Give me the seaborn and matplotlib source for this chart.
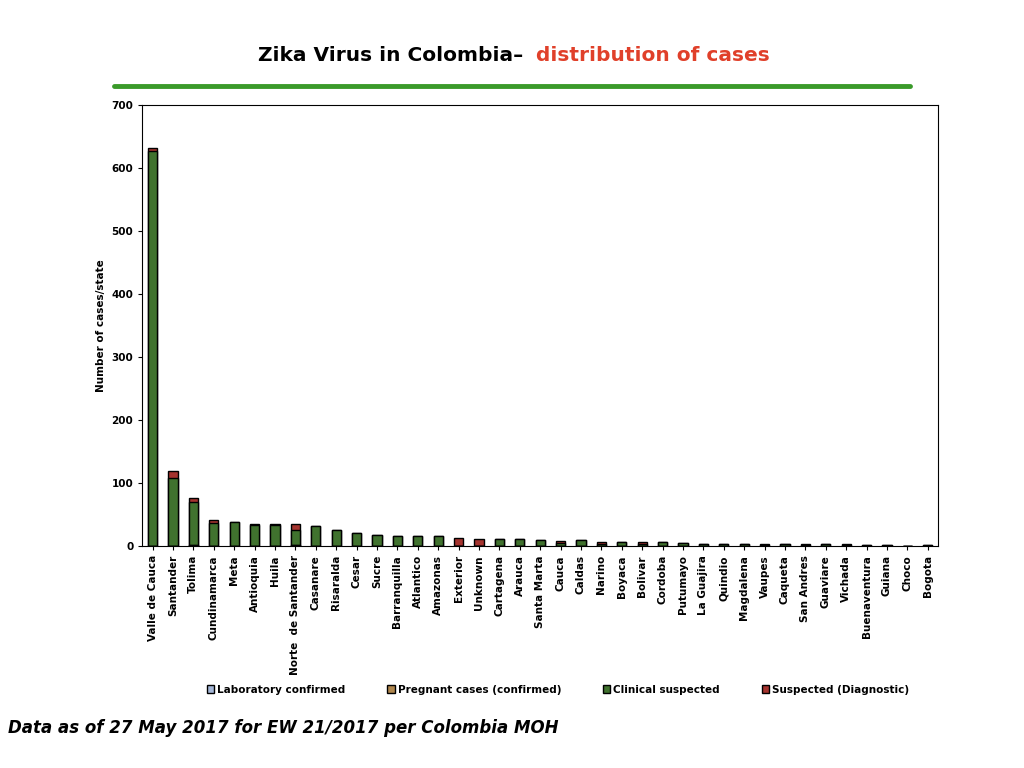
import seaborn as sns
import matplotlib.pyplot as plt
import numpy as np
import pandas as pd

states = ["Valle de Cauca", "Santander", "Tolima", "Cundinamarca", "Meta", "Antioquia",
          "Huila", "Norte  de Santander", "Casanare", "Risaralda", "Cesar", "Sucre",
          "Barranquilla", "Atlantico", "Amazonas", "Exterior", "Unknown", "Cartagena",
          "Arauca", "Santa Marta", "Cauca", "Caldas", "Narino", "Boyaca", "Bolivar",
          "Cordoba", "Putumayo", "La Guajira", "Quindio", "Magdalena", "Vaupes",
          "Caqueta", "San Andres", "Guaviare", "Vichada", "Buenaventura", "Guiana",
          "Choco", "Bogota"]
lab_confirmed = [0, 0, 1, 0, 0, 0, 0, 1, 0, 0, 0, 0, 0, 0, 0, 0, 0, 0, 0, 0,
                 0, 0, 0, 0, 0, 0, 0, 0, 0, 0, 0, 0, 0, 0, 0, 0, 0, 0, 0]
pregnant = [0] * len(states)
clinical = [628, 108, 69, 37, 38, 34, 33, 24, 32, 25, 20, 18, 16, 16, 16, 0, 0, 11,
            11, 10, 5, 9, 3, 7, 4, 6, 5, 4, 4, 4, 1, 3, 1, 3, 1, 2, 1, 0, 1]
suspected = [4, 11, 6, 4, 0, 1, 2, 10, 0, 0, 0, 0, 0, 0, 0, 13, 11, 0,
             0, 0, 3, 0, 4, 0, 3, 0, 0, 0, 0, 0, 2, 0, 2, 0, 2, 0, 0, 0, 0]

series = ["Laboratory confirmed", "Pregnant cases (confirmed)", "Clinical suspected",
          "Suspected (Diagnostic)"]
colors = ["#9db4e0", "#c08a3e", "#3a7d23", "#b8221c"]
df = pd.DataFrame({"state": states, series[0]: lab_confirmed, series[1]: pregnant,
                   series[2]: clinical, series[3]: suspected})

sns.set_style("white")
plt.rcParams["text.color"] = "black"
plt.rcParams["xtick.color"] = "black"
plt.rcParams["ytick.color"] = "black"
plt.rcParams["axes.labelcolor"] = "black"
fig = plt.figure(figsize=(10.24, 7.68), dpi=100)
ax = fig.add_axes([0.139, 0.289, 0.777, 0.574])

# stacked bars: draw cumulative totals, top series first
cum = np.cumsum(df[series].values, axis=1)
for i in range(len(series) - 1, -1, -1):
    sns.barplot(x=df["state"], y=cum[:, i], color=colors[i], width=0.45,
                edgecolor="black", linewidth=1.0, ax=ax, label=series[i], legend=False)

ax.set_ylim(0, 700)
ax.set_yticks(range(0, 701, 100))
ax.set_xlim(-0.5, len(states) - 0.5)
ax.set_xlabel("")
ax.set_ylabel("Number of cases/state", fontsize=7.5, fontweight="bold")
ax.tick_params(axis="y", labelsize=7.5, length=3, direction="out", left=True)
ax.tick_params(axis="x", labelsize=7.5, length=3, direction="out", bottom=True)
for lbl in ax.get_yticklabels():
    lbl.set_fontweight("bold")
ax.set_xticks(range(len(states)))
ax.set_xticklabels(states, rotation=90, fontweight="bold")
for s in ax.spines.values():
    s.set_color("black")
    s.set_linewidth(0.8)

h, l = ax.get_legend_handles_labels()
if ax.get_legend():
    ax.get_legend().remove()
order = [l.index(s) for s in series]
fig.legend([h[i] for i in order], [l[i] for i in order], loc="center",
           bbox_to_anchor=(0.545, 0.102), ncol=4, frameon=False,
           prop={"size": 7.5, "weight": "bold"}, handlelength=0.7,
           handleheight=0.7, columnspacing=4.0, handletextpad=0.3)

fig.text(0.511, 0.928, "Zika Virus in Colombia\u2013", ha="right", va="center",
         fontsize=14.5, fontweight="bold", color="black")
fig.text(0.523, 0.928, "distribution of cases", ha="left", va="center",
         fontsize=14.5, fontweight="bold", color="#e0402a")
fig.add_artist(plt.Line2D([0.111, 0.889], [0.888, 0.888], color="#3a9a2a", linewidth=3.5))
fig.text(0.008, 0.045, "Data as of 27 May 2017 for EW 21/2017 per Colombia MOH",
         fontsize=12, fontweight="bold", fontstyle="italic", color="black")

fig.savefig("out.png", dpi=100)
